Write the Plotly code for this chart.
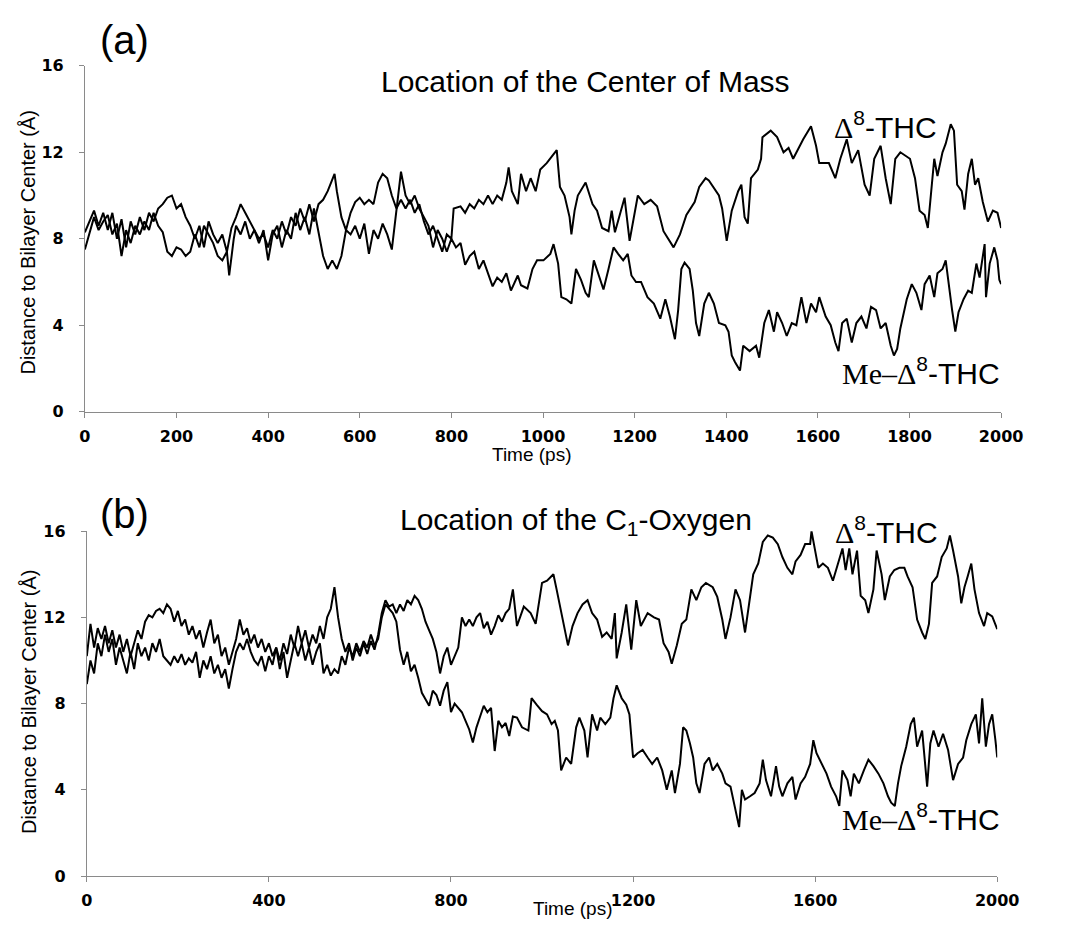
import plotly.graph_objects as go

# ---------------- Panel (a): centre of mass ----------------
time_a_d8 = [0,10,20,30,40,50,60,70,80,90,100,110,120,130,140,150,160,170,180,190,200,210,220,230,240,250,260,270,280,290,300,310,320,330,340,350,360,370,380,390,400,410,420,430,440,450,460,470,480,490,500,510,520,530,540,545,550,560,570,580,590,600,610,620,630,640,650,660,670,680,690,700,710,720,730,740,750,760,770,780,790,800,805,820,830,840,850,860,870,880,890,900,910,920,925,932,
             945,952,963,973,984,994,1008,1030,1037,1047,1058,1062,1069,1076,1093,1108,1118,1129,1143,1150,1157,1178,1189,1207,1221,1235,1249,1263,1285,1299,1313,1331,1341,1355,1362,1377,1384,1391,1401,1412,1426,1433,1440,1447,1454,1469,1476,1479,1497,1511,1525,1536,1546,1568,1585,1596,1603,1624,1638,1649,1663,1674,1688,1702,1713,1723,1737,1748,1759,1769,1780,1801,1812,1822,1833,1840,1847,1854,1861,1872,1879,1890,1897,1904,1914,1920,1928,1936,1943,1950,1960,1971,1982,1992,2000]
dist_a_d8 = [8.3,8.8,9.3,8.6,9.2,8.4,9.2,8.0,8.9,7.6,8.8,8.2,9.0,8.4,9.2,8.8,9.4,9.6,9.9,10.0,9.4,9.6,9.0,8.6,8.0,8.6,7.6,8.8,8.2,7.8,8.2,7.4,8.5,9.0,9.6,9.2,8.8,8.4,8.0,8.2,7.6,8.4,8.0,8.8,8.2,9.0,8.6,9.4,8.8,9.6,8.8,9.6,9.8,10.2,10.8,11.0,10.2,9.0,8.4,9.2,9.7,9.9,9.6,9.8,9.6,10.6,11.0,10.8,10.0,9.4,9.8,9.4,9.8,9.2,9.6,8.8,8.2,8.6,8.0,7.4,8.2,8.0,9.4,9.5,9.2,9.6,9.4,9.8,9.6,10.0,9.6,10.0,9.8,10.6,11.3,10.2,
             9.6,11.0,10.2,10.8,10.2,11.2,11.5,12.1,10.4,10.0,9.0,8.2,9.3,10.0,10.6,9.6,9.3,8.5,8.35,9.3,8.3,9.9,7.9,10.0,9.6,9.8,9.5,8.35,7.6,8.2,9.1,9.7,10.4,10.8,10.7,10.2,10.0,9.4,7.9,9.3,10.2,10.5,9.0,8.7,10.8,11.2,11.7,12.7,13.0,12.7,12.0,12.2,11.7,12.6,13.2,12.3,11.5,11.5,10.8,11.7,12.6,11.5,12.1,10.5,10.0,11.7,12.3,10.8,9.6,11.7,12.0,11.7,10.8,9.3,9.1,8.5,10.2,11.7,10.9,12.0,12.4,13.3,13.0,10.5,10.2,9.35,11.0,11.7,10.5,10.8,9.7,8.8,9.3,9.2,8.5]

time_a_me = [0,10,20,30,40,50,60,70,80,90,100,110,120,130,140,150,160,170,180,190,200,210,220,230,240,250,260,270,280,290,300,310,315,325,330,340,350,360,370,380,390,400,410,420,430,440,450,460,470,480,490,500,510,520,530,540,550,560,570,580,590,600,610,620,630,640,650,660,670,680,690,700,710,720,730,740,750,760,770,780,790,800,810,820,830,840,850,860,870,880,890,900,910,920,930,
             945,952,966,977,987,1001,1016,1023,1033,1040,1051,1062,1072,1083,1093,1100,1111,1122,1132,1143,1154,1164,1175,1185,1193,1203,1214,1228,1242,1256,1267,1277,1288,1295,1302,1309,1320,1327,1334,1341,1352,1362,1373,1384,1398,1405,1412,1419,1430,1437,1451,1465,1472,1483,1493,1504,1511,1522,1532,1543,1553,1564,1575,1585,1596,1603,1617,1628,1638,1645,1653,1663,1674,1684,1695,1706,1716,1727,1737,1748,1759,1766,1773,1780,1787,1794,1805,1815,1826,1833,1844,1854,1861,1872,1879,1886,1893,1900,1907,1918,1928,1936,1946,1953,1964,1967,1975,1985,1992,1996,2000]
dist_a_me = [7.5,8.2,9.0,8.4,8.8,9.1,8.2,8.7,7.2,8.4,7.8,8.6,8.2,8.8,8.4,9.2,8.6,8.3,7.4,7.2,7.6,7.5,7.2,7.4,8.2,7.6,8.6,8.2,7.8,7.2,7.0,7.4,6.3,8.0,8.6,8.2,8.8,8.0,8.4,7.8,8.4,7.0,8.2,8.6,7.6,8.4,8.0,9.2,8.4,9.0,8.2,9.4,8.2,7.2,6.6,7.0,6.6,7.2,8.4,8.2,8.6,8.0,8.7,7.3,8.4,8.0,8.7,8.2,7.5,9.2,11.1,10.0,9.6,10.0,9.4,9.0,8.6,7.6,8.4,8.0,7.4,8.0,7.6,7.8,6.8,7.2,7.4,6.6,7.0,6.4,5.8,6.2,6.0,6.4,5.6,
             6.3,5.85,5.7,6.6,7.0,7.0,7.3,7.75,6.85,5.3,5.2,5.0,6.6,6.1,5.5,5.3,7.0,6.3,5.65,6.6,7.6,7.3,7.0,7.3,6.3,6.0,6.0,5.3,5.0,4.3,5.2,4.4,3.35,4.7,6.6,6.9,6.6,5.6,4.1,3.5,5.0,5.5,5.0,4.1,4.0,3.7,2.6,2.3,1.9,3.05,2.8,3.05,2.5,4.1,4.7,3.7,4.6,4.1,3.5,4.1,4.0,5.3,4.1,5.0,4.6,5.3,4.4,4.0,3.2,2.8,4.1,4.3,3.2,4.1,4.4,3.85,4.85,4.7,3.85,4.1,3.05,2.6,2.9,3.85,4.6,5.2,5.9,5.5,4.7,5.9,6.3,5.3,6.4,6.6,7.0,5.8,4.7,3.7,4.6,5.2,5.6,5.5,6.85,6.2,7.75,5.3,6.85,7.6,7.0,6.1,5.9]

# ---------------- Panel (b): C1-oxygen ----------------
time_b_d8 = [0,8,16,24,32,40,48,56,64,72,80,88,96,104,112,120,128,136,144,152,160,168,176,184,192,200,208,216,224,232,240,248,256,264,272,280,288,296,304,312,320,328,336,344,352,360,368,376,384,392,400,408,416,424,432,440,448,456,464,472,480,488,496,504,512,520,528,536,544,552,560,568,576,584,592,600,608,616,624,632,640,648,656,664,672,680,688,696,704,712,720,728,736,744,752,760,768,776,784,792,800,808,816,824,832,840,848,856,864,872,880,888,896,904,912,920,928,936,
             945,960,975,986,1000,1011,1025,1032,1039,1050,1057,1067,1078,1089,1100,1110,1121,1132,1142,1153,1160,1164,1175,1185,1196,1207,1217,1232,1246,1257,1267,1278,1285,1296,1307,1317,1328,1339,1350,1360,1375,1385,1396,1403,1414,1425,1435,1446,1453,1464,1475,1485,1496,1507,1518,1528,1539,1550,1557,1568,1578,1589,1592,1600,1607,1617,1628,1639,1650,1660,1667,1675,1682,1692,1700,1710,1717,1728,1735,1746,1753,1764,1774,1785,1796,1803,1814,1824,1835,1842,1850,1857,1868,1878,1889,1896,1903,1914,1921,1928,1935,1943,1950,1960,1971,1978,1989,1996,2000]
dist_b_d8 = [10.2,11.7,10.6,11.5,11.0,11.6,10.8,11.4,10.6,11.2,10.4,11.0,10.2,10.8,11.4,11.0,11.8,12.1,12.0,12.3,12.4,12.2,12.6,12.4,11.8,12.3,11.6,11.9,11.2,11.6,11.0,11.4,10.6,11.3,11.9,10.8,11.2,10.2,10.6,9.8,10.4,11.0,11.9,11.2,11.5,10.8,11.2,10.6,11.0,10.4,10.8,10.2,10.6,10.0,10.8,10.3,11.2,10.6,11.6,10.8,11.4,10.6,11.2,10.8,11.6,11.0,12.0,12.4,13.4,12.0,11.0,10.4,10.8,10.0,10.6,10.2,10.8,10.3,10.9,10.5,11.2,12.2,12.8,12.5,12.6,12.2,12.6,12.3,12.8,12.6,13.0,12.8,12.4,11.8,11.4,11.0,10.4,9.4,10.2,10.6,9.8,10.2,10.6,12.0,11.6,11.9,11.6,12.0,12.2,11.5,11.8,11.2,11.6,12.1,11.8,12.2,12.4,13.3,
             11.6,12.5,12.2,11.7,13.6,13.7,14.0,13.3,12.6,11.4,10.7,11.6,12.2,12.6,12.8,12.2,11.9,11.1,11.3,11.0,12.2,10.1,11.3,12.6,10.5,12.8,11.6,12.2,12.0,11.9,10.8,10.4,9.85,10.7,11.7,11.9,13.3,12.8,13.4,13.6,13.4,12.95,11.9,11.0,12.0,13.3,12.8,11.3,12.4,14.0,14.5,15.5,15.8,15.7,15.4,14.8,14.3,14.0,14.6,14.9,15.4,15.4,16.0,15.1,14.3,14.5,14.3,13.7,14.5,15.2,14.2,15.2,14.0,15.1,13.0,12.8,12.2,13.3,15.1,14.0,12.8,13.9,14.2,14.3,14.3,13.9,13.4,11.9,11.3,11.0,11.7,13.6,13.9,14.8,15.2,15.8,15.1,13.9,12.65,13.4,13.9,14.5,13.3,12.2,11.6,12.2,12.05,11.7,11.45]

time_b_me = [0,8,16,24,32,40,48,56,64,72,80,88,96,104,112,120,128,136,144,152,160,168,176,184,192,200,208,216,224,232,240,248,256,264,272,280,288,296,304,312,320,328,336,344,352,360,368,376,384,392,400,408,416,424,432,440,448,456,464,472,480,488,496,504,512,520,528,536,544,552,560,568,576,584,592,600,608,616,624,632,640,648,656,664,672,680,688,696,704,712,720,728,736,744,752,760,768,776,784,792,800,808,816,824,832,840,848,856,864,872,880,888,896,904,912,920,928,936,
             945,956,970,977,988,1000,1011,1021,1028,1035,1042,1053,1064,1075,1082,1093,1100,1110,1121,1128,1139,1150,1157,1164,1175,1185,1192,1200,1210,1221,1232,1242,1253,1264,1274,1285,1292,1303,1310,1317,1325,1332,1339,1346,1357,1367,1375,1385,1396,1403,1414,1421,1428,1433,1439,1446,1457,1467,1478,1485,1492,1503,1514,1521,1528,1539,1550,1557,1568,1578,1589,1596,1603,1614,1625,1635,1646,1653,1660,1671,1678,1685,1696,1707,1717,1728,1739,1750,1760,1767,1775,1782,1789,1800,1810,1817,1824,1835,1846,1853,1860,1871,1881,1892,1903,1914,1925,1932,1943,1953,1960,1967,1975,1982,1989,1996,2000]
dist_b_me = [8.9,10.0,9.4,10.8,10.2,11.2,10.4,11.0,9.8,10.6,10.0,9.4,10.4,9.6,10.8,10.2,10.6,10.0,10.8,10.4,11.0,10.2,10.0,9.8,10.2,9.9,10.3,9.8,10.1,9.9,10.4,9.2,10.0,9.6,10.2,9.4,9.8,9.2,9.6,8.7,9.6,10.4,10.8,10.5,11.0,10.4,10.0,9.8,10.2,9.5,10.2,9.8,10.6,9.6,10.4,9.2,10.0,10.8,10.2,10.8,10.0,10.6,9.8,10.4,10.8,9.4,9.8,9.3,9.6,9.4,10.2,9.8,10.6,10.2,10.8,10.4,10.9,10.6,11.2,10.7,11.0,12.0,12.6,12.4,12.2,11.8,10.5,9.8,10.4,9.5,9.8,9.2,8.5,8.2,7.9,8.6,8.4,7.9,8.6,9.0,7.6,8.0,7.8,7.6,7.2,6.8,6.2,6.9,7.4,7.9,7.6,7.8,5.8,7.2,6.9,7.1,6.5,7.4,
             7.35,6.9,6.75,8.25,7.95,7.65,7.5,7.05,7.2,6.75,4.9,5.5,5.2,6.9,7.35,6.75,5.5,7.5,6.75,7.35,7.05,7.35,8.25,8.85,8.25,7.95,7.5,5.5,5.7,5.85,5.5,5.2,5.5,4.9,4.0,4.9,3.85,5.2,6.9,6.75,6.15,5.5,4.3,3.85,5.2,5.5,4.9,5.2,4.75,4.3,4.15,3.4,2.8,2.27,4.0,3.55,3.7,3.85,4.3,5.4,4.45,3.7,5.1,4.15,3.7,4.3,4.6,3.55,4.3,4.6,5.2,6.3,5.7,5.2,4.75,4.15,3.7,3.25,4.9,4.45,3.7,4.75,4.3,4.9,5.4,5.1,4.75,4.3,3.7,3.4,3.25,4.3,5.1,6.0,7.05,7.35,6.0,6.75,4.15,6.15,6.75,6.0,6.6,5.85,4.45,5.2,5.5,6.3,7.05,7.5,6.15,8.25,6.0,7.05,7.5,6.3,5.5]

x_ticks_a = [0, 200, 400, 600, 800, 1000, 1200, 1400, 1600, 1800, 2000]
x_ticks_b = [0, 400, 800, 1200, 1600, 2000]
y_ticks = [0, 4, 8, 12, 16]

W, H = 1065, 936
def px(x): return x / W
def py(y): return 1 - y / H

SANS = "Liberation Sans, Arial, sans-serif"
TICKF = dict(family="DejaVu Sans", size=16, color="black", weight="bold")

fig = go.Figure()
line = dict(color="black", width=2)
fig.add_trace(go.Scatter(x=time_a_d8, y=dist_a_d8, mode="lines", line=line, xaxis="x", yaxis="y", name="Δ8-THC"))
fig.add_trace(go.Scatter(x=time_a_me, y=dist_a_me, mode="lines", line=line, xaxis="x", yaxis="y", name="Me-Δ8-THC"))
fig.add_trace(go.Scatter(x=time_b_d8, y=dist_b_d8, mode="lines", line=line, xaxis="x2", yaxis="y2", name="Δ8-THC"))
fig.add_trace(go.Scatter(x=time_b_me, y=dist_b_me, mode="lines", line=line, xaxis="x2", yaxis="y2", name="Me-Δ8-THC"))

axis_common = dict(showgrid=False, zeroline=False, showline=True, linecolor="#8a8a8a", linewidth=1,
                   ticks="outside", ticklen=5, tickcolor="#8a8a8a", tickfont=TICKF, mirror=False)

fig.update_layout(
    width=W, height=H, margin=dict(l=0, r=0, t=0, b=0),
    paper_bgcolor="white", plot_bgcolor="white", showlegend=False,
    xaxis=dict(domain=[px(81), px(1022)], range=[0, 2000], tickvals=x_ticks_a, anchor="y",
               ticklabelstandoff=5, **axis_common),
    yaxis=dict(domain=[py(411), py(58)], range=[0, 16], tickvals=y_ticks, anchor="x",
               ticklabelstandoff=12, **axis_common),
    xaxis2=dict(domain=[px(83), px(1018)], range=[0, 2000], tickvals=x_ticks_b, anchor="y2",
                ticklabelstandoff=5, **axis_common),
    yaxis2=dict(domain=[py(885), py(533)], range=[0, 16], tickvals=y_ticks, anchor="x2",
                ticklabelstandoff=12, **axis_common),
)

def ann(text, x, y, size, family=SANS, angle=0):
    fig.add_annotation(text=text, x=px(x), y=py(y), xref="paper", yref="paper",
                       xanchor="center", yanchor="middle", showarrow=False, textangle=angle,
                       font=dict(family=family, size=size, color="black"))

ann("(a)", 122, 32, 40)
ann("(b)", 122, 515, 40)
ann("Location of the Center of Mass", 595, 74, 30)
ann("Location of the C<sub>1</sub>-Oxygen", 585, 523, 30)
ann("Distance to Bilayer Center (Å)", 23, 238, 20, angle=-90)
ann("Distance to Bilayer Center (Å)", 23, 707, 20, angle=-90)
ann("Time (ps)", 540, 455, 19)
ann("Time (ps)", 582, 918, 19)

d8 = "<span style='font-family:Liberation Serif'>Δ</span><sup>8</sup>-THC"
me = "<span style='font-family:Liberation Serif'>Me–Δ</span><sup>8</sup>-THC"
ann(d8, 903, 118, 30)
ann(me, 940, 370, 30)
ann(d8, 904, 532, 30)
ann(me, 940, 825, 30)

fig.write_html("out.html")
